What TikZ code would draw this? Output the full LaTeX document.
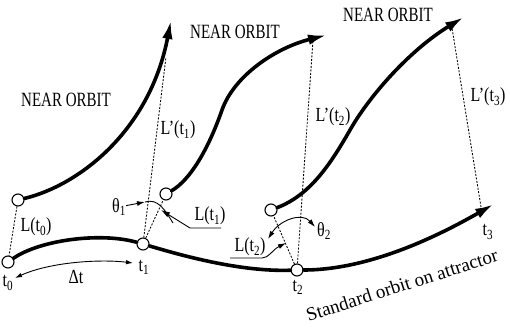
\documentclass[tikz,border=0pt]{standalone}
\usepackage{fontspec}
\setmainfont{Liberation Serif}
\usepackage{graphicx}
\usetikzlibrary{arrows.meta}
\newcommand\tallbox[2][1.25]{\scalebox{1}[#1]{#2}}
\begin{document}
\begin{tikzpicture}[x=1pt,y=-1pt,
 orbit/.style={line width=3.6pt, line cap=round},
 orbitarrow/.style={orbit, -{Latex[length=19pt,width=10.5pt]}},
 dot/.style={circle, draw, fill=white, line width=1.1pt, minimum size=12pt, inner sep=0pt},
 proj/.style={dash pattern=on 2pt off 1.5pt, line width=0.85pt},
 lbl/.style={font=\fontsize{16}{16}\selectfont, inner sep=0pt},
 bigl/.style={font=\fontsize{15}{15}\selectfont, inner sep=0pt},
 leader/.style={line width=0.9pt},
 ]
\useasboundingbox (0,0) rectangle (510,331);
% circles
\node[dot] (t0c) at (8,262) {};
\node[dot] (t1c) at (143,244) {};
\node[dot] (t2c) at (297,270) {};
\node[dot] (o1s) at (18,200) {};
\node[dot] (o2s) at (166,194) {};
\node[dot] (o3s) at (271,210) {};
\coordinate (t3tip) at (494,204);
\coordinate (o1tip) at (171,20);
\coordinate (o2mid) at (222,110);
\coordinate (o2tip) at (327,35);
\coordinate (o3mid) at (350,130);
\coordinate (o3tip) at (464,17);
\coordinate (L1e) at (166,57);
\coordinate (L2e) at (313,40);
\coordinate (L3a) at (481,207);
\coordinate (L3e) at (452,28);
% standard orbit
\draw[orbit] (t0c) .. controls (40,240) and (100,232) .. (t1c);
\draw[orbit] (t1c) .. controls (180,255) and (240,272) .. (t2c);
\draw[orbitarrow] (t2c) .. controls (370,270) and (440,235) .. (t3tip);
% near orbits
\draw[orbitarrow] (o1s) .. controls (80,185) and (150,130) .. (o1tip);
\draw[orbitarrow] (o2s) .. controls (190,180) and (208,150) .. (o2mid) .. controls (234,76) and (275,48) .. (o2tip);
\draw[orbitarrow] (o3s) .. controls (310,195) and (330,165) .. (o3mid) .. controls (370,95) and (410,50) .. (o3tip);
% projections
\draw[proj] (o1s) -- (t0c);
\draw[proj] (t1c) -- (L1e);
\draw[proj] (t1c) -- (o2s);
\draw[proj] (t2c) -- (L2e);
\draw[proj] (t2c) -- (o3s);
\draw[proj] (L3a) -- (L3e);
% labels
\node[bigl] at (66,100) {\tallbox[1.35]{NEAR ORBIT}};
\node[bigl] at (235,32) {\tallbox[1.35]{NEAR ORBIT}};
\node[bigl] at (388,15) {\tallbox[1.35]{NEAR ORBIT}};
\node[lbl] at (178,130) {\tallbox{L'(t\textsubscript{1})}};
\node[lbl] at (333,117) {\tallbox{L'(t\textsubscript{2})}};
\node[lbl] at (488,97) {\tallbox{L'(t\textsubscript{3})}};
\node[lbl] at (36,227) {\tallbox{L(t\textsubscript{0})}};
\node[lbl] at (8,283) {\tallbox{t\textsubscript{0}}};
\node[lbl] at (144,267) {\tallbox{t\textsubscript{1}}};
\node[lbl] at (298,287) {\tallbox{t\textsubscript{2}}};
\node[lbl] at (488,232) {\tallbox{t\textsubscript{3}}};
\node[lbl] at (76,277) {\tallbox{Δt}};
% delta t arrow
\coordinate (dta) at (15,278);
\coordinate (dtb) at (133,263);
\draw[leader, {Latex[length=7pt,width=4.5pt]}-{Latex[length=7pt,width=4.5pt]}] (dta) .. controls (50,262) and (100,259) .. (dtb);
% theta 1
\node[lbl] (th1) at (119,207) {\tallbox{θ\textsubscript{1}}};
\coordinate (th1b) at (145,202);
\coordinate (th1c) at (173,223);
\draw[leader, -{Latex[length=8pt,width=5pt]}] (th1) -- (th1b);
\draw[leader] (th1b) .. controls (158,198) and (165,210) .. (th1c);
% L(t1)
\node[lbl] (Lt1) at (210,216) {\tallbox{L(t\textsubscript{1})}};
\coordinate (u1a) at (221,228);
\coordinate (u1b) at (190,228);
\coordinate (u1tip) at (161,210);
\draw[leader, -{Latex[length=9pt,width=5.5pt]}] (u1a) -- (u1b) -- (u1tip);
% theta 2
\node[lbl] (th2) at (324,231) {\tallbox{θ\textsubscript{2}}};
\coordinate (th2a) at (268,239);
\coordinate (th2b) at (315,227);
\draw[leader, {Latex[length=8pt,width=5pt]}-{Latex[length=8pt,width=5pt]}] (th2a) .. controls (280,220) and (302,212) .. (th2b);
% L(t2)
\node[lbl] (Lt2) at (250,247) {\tallbox{L(t\textsubscript{2})}};
\coordinate (u2a) at (230,258);
\coordinate (u2b) at (262,258);
\coordinate (u2tip) at (286,243);
\draw[leader, -{Latex[length=8pt,width=5pt]}] (u2a) -- (u2b) .. controls (269,258) and (272,250) .. (u2tip);
% standard orbit label
\node[font=\fontsize{19}{19}\selectfont, inner sep=0pt, rotate=17.7] at (402,285) {Standard orbit on attractor};
\end{tikzpicture}
\end{document}
